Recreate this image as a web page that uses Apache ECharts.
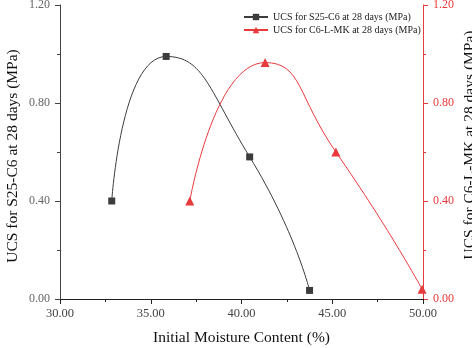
<!DOCTYPE html>
<html>
<head>
<meta charset="utf-8">
<script src="https://cdn.jsdelivr.net/npm/echarts@6/dist/echarts.min.js"></script>
<style>
  html, body { margin: 0; padding: 0; background: #fff; }
  #chart { width: 472px; height: 348px; }
</style>
</head>
<body>
<div id="chart"></div>
<script>
  // S25-C6 series (moisture %, UCS MPa)
  const s25Moisture = [32.85, 35.85, 40.45, 43.75]
  const s25Ucs = [0.40, 0.99, 0.58, 0.035]
  // C6-L-MK series
  const c6Moisture = [37.15, 41.3, 45.2, 49.95]
  const c6Ucs = [0.40, 0.965, 0.60, 0.04]

  const font = "'Liberation Serif', 'Times New Roman', serif"
  const red = '#e8393d'
  const dark = '#3c3c3c'

  const pairs = (xs, ys) => xs.map((x, i) => [x, ys[i]])
  const fmt = v => v.toFixed(2)

  const chart = echarts.init(document.getElementById('chart'))
  chart.setOption({
    animation: false,
    textStyle: { fontFamily: font },
    grid: { left: 60, right: 49, top: 5, bottom: 49, containLabel: false, outerBoundsMode: 'none' },
    legend: {
      orient: 'vertical',
      left: 238,
      top: 7,
      itemGap: 3,
      itemWidth: 24,
      itemHeight: 8,
      textStyle: { fontFamily: font, fontSize: 10, color: '#222' },
      data: ['UCS for S25-C6 at 28 days (MPa)', 'UCS for C6-L-MK at 28 days (MPa)']
    },
    xAxis: [{
      type: 'value',
      min: 30,
      max: 50,
      interval: 5,
      name: 'Initial Moisture Content (%)',
      nameLocation: 'middle',
      nameGap: 31,
      nameMoveOverlap: false,
      nameTextStyle: { fontFamily: font, fontSize: 15.5, color: '#111' },
      axisLine: { lineStyle: { color: '#222' } },
      axisTick: { length: 5, lineStyle: { color: '#222' } },
      minorTick: { show: true, splitNumber: 2, length: 3, lineStyle: { color: '#222' } },
      axisLabel: { formatter: fmt, fontFamily: font, fontSize: 12.5, color: '#444', margin: 8 },
      splitLine: { show: false }
    }, {
      type: 'value',
      position: 'top',
      min: 30,
      max: 50,
      interval: 5,
      axisLine: { lineStyle: { color: '#222' } },
      axisTick: { inside: true, length: 5, lineStyle: { color: '#222' } },
      minorTick: { show: true, splitNumber: 2, length: 3, lineStyle: { color: '#222' } },
      axisLabel: { show: false },
      splitLine: { show: false }
    }],
    yAxis: [{
      type: 'value',
      position: 'left',
      min: 0,
      max: 1.2,
      interval: 0.4,
      name: 'UCS for S25-C6 at 28 days (MPa)',
      nameLocation: 'middle',
      nameGap: 39,
      nameMoveOverlap: false,
      nameTextStyle: { fontFamily: font, fontSize: 15.5, color: '#111', padding: [0, 8, 0, 0] },
      axisLine: { show: true, lineStyle: { color: '#444' } },
      axisTick: { show: true, length: 5, lineStyle: { color: '#444' } },
      minorTick: { show: true, splitNumber: 2, length: 3, lineStyle: { color: '#444' } },
      axisLabel: { formatter: fmt, fontFamily: font, fontSize: 12, color: '#666', margin: 10 },
      splitLine: { show: false }
    }, {
      type: 'value',
      position: 'right',
      min: 0,
      max: 1.2,
      interval: 0.4,
      name: 'UCS for C6-L-MK at 28 days (MPa)',
      nameLocation: 'middle',
      nameGap: 39,
      nameRotate: 90,
      nameMoveOverlap: false,
      nameTextStyle: { fontFamily: font, fontSize: 15.5, color: '#111', padding: [0, 0, 0, 14] },
      axisLine: { show: true, lineStyle: { color: red } },
      axisTick: { show: true, length: 5, lineStyle: { color: red } },
      minorTick: { show: true, splitNumber: 2, length: 3, lineStyle: { color: red } },
      axisLabel: { formatter: fmt, fontFamily: font, fontSize: 12, color: red, margin: 10 },
      splitLine: { show: false }
    }],
    series: [{
      name: 'UCS for S25-C6 at 28 days (MPa)',
      type: 'line',
      yAxisIndex: 0,
      data: pairs(s25Moisture, s25Ucs),
      smooth: 0.6,
      symbol: 'rect',
      symbolSize: 7,
      color: dark,
      lineStyle: { width: 1, color: dark },
      itemStyle: { color: dark }
    }, {
      name: 'UCS for C6-L-MK at 28 days (MPa)',
      type: 'line',
      yAxisIndex: 1,
      data: pairs(c6Moisture, c6Ucs),
      smooth: 0.6,
      symbol: 'triangle',
      symbolSize: 9,
      color: red,
      lineStyle: { width: 1, color: red },
      itemStyle: { color: red }
    }]
  })
</script>
</body>
</html>
